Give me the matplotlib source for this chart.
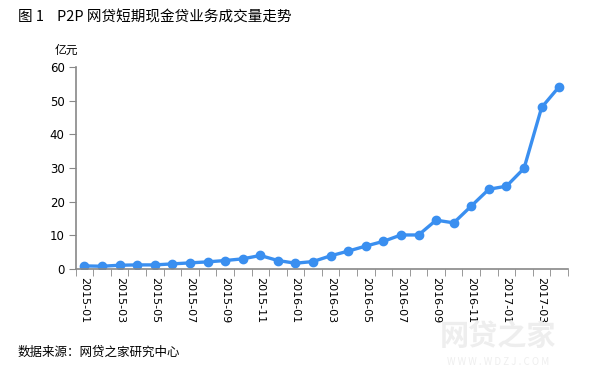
import numpy as np
import matplotlib
matplotlib.use("Agg")
import matplotlib.pyplot as plt
from matplotlib.ticker import FixedLocator

plt.rcParams['font.family'] = ['Noto Sans CJK SC', 'DejaVu Sans']

months = ["2015-01", "2015-02", "2015-03", "2015-04", "2015-05", "2015-06", "2015-07",
          "2015-08", "2015-09", "2015-10", "2015-11", "2015-12", "2016-01", "2016-02",
          "2016-03", "2016-04", "2016-05", "2016-06", "2016-07", "2016-08", "2016-09",
          "2016-10", "2016-11", "2016-12", "2017-01", "2017-02", "2017-03", "2017-04"]
volume = [0.9, 0.8, 1.1, 1.2, 1.2, 1.5, 1.8, 2.1, 2.5, 3.0, 4.0, 2.5, 1.7, 2.2,
          3.9, 5.3, 6.8, 8.2, 10.1, 10.1, 14.5, 13.7, 18.7, 23.7, 24.6, 29.9, 48.0, 54.2]
yticks = [0, 10, 20, 30, 40, 50, 60]

fig = plt.figure(figsize=(5.96, 3.73), dpi=100)
ax = fig.add_axes([0.127, 0.279, 0.826, 0.541])

x = np.arange(len(months))
ax.plot(x, volume, "-o", color="#3a8ff0", lw=2.4, ms=6, mec="#3a8ff0")

ax.set_xlim(-0.5, len(months) - 0.5)
ax.set_ylim(0, 60)
ax.set_yticks(yticks)
ax.set_xticks(x[::2])
ax.set_xticklabels(months[::2], rotation=-90, fontsize=8, family=['DejaVu Sans'])
ax.xaxis.set_minor_locator(FixedLocator(np.arange(-0.5, len(months), 1.0)))
ax.tick_params(axis="x", which="major", length=0, pad=6)
ax.tick_params(axis="x", which="minor", length=5, color="#888888")
ax.tick_params(axis="y", length=5, color="#888888", labelsize=8.5, pad=3)
for lab in ax.get_yticklabels():
    lab.set_family(['DejaVu Sans'])

for s in ["top", "right"]:
    ax.spines[s].set_visible(False)
for s in ["left", "bottom"]:
    ax.spines[s].set_color("#888888")
    ax.spines[s].set_linewidth(1.2)

fig.text(0.03, 0.952, "图 1    P2P 网贷短期现金贷业务成交量走势", fontsize=10.5, va="center")
fig.text(0.092, 0.865, "亿元", fontsize=8.5, va="center")
fig.text(0.03, 0.055, "数据来源：网贷之家研究中心", fontsize=9, va="center")

# watermark
fig.text(0.836, 0.1, "网贷之家", fontsize=21, color="#eeeeee", ha="center", va="center",
         fontweight="bold", zorder=0)
fig.text(0.836, 0.03, "W W W . W D Z J . C O M", fontsize=7, color="#eeeeee", ha="center",
         va="center", zorder=0)

fig.savefig("out.png", dpi=100)
